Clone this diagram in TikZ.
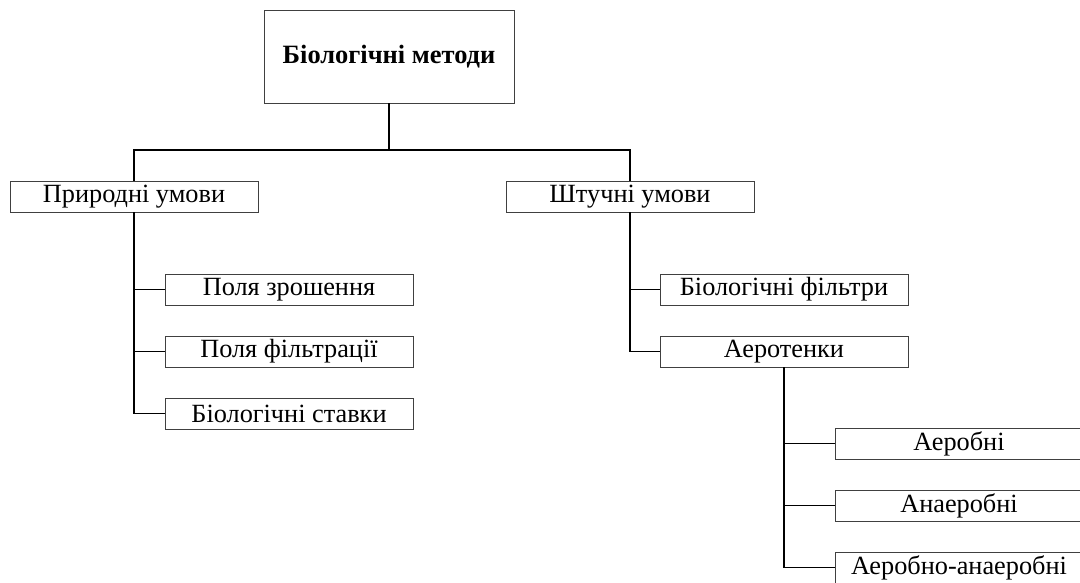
\documentclass[tikz,border=0pt]{standalone}
\usepackage{fontspec}
\setmainfont{Liberation Serif}
\usetikzlibrary{positioning}

\tikzset{
  box/.style={draw=black!75, line width=0.6pt, fill=white, minimum width=6.2cm,
    minimum height=0.775cm, inner sep=0pt, font=\fontsize{18.7}{20}\selectfont},
  rootbox/.style={box, minimum width=6.25cm, minimum height=2.325cm,
    font=\fontsize{18.8}{20}\selectfont\bfseries},
  link/.style={line width=1.4pt, draw=black}
}

\begin{document}
\begin{tikzpicture}[x=0.025cm, y=-0.025cm]
		%%%%% START %%%%%
		\useasboundingbox (0,0) rectangle (1080,583);
		
		\node[rootbox] (metody) at (389,56.5) {Біологічні методи};
		
		\node[box] (pryrodni) at (134,196.5) {Природні умови};
		\node[box] (shtuchni) at (630,196.5) {Штучні умови};
		
		\node[box] (zroshennia) at (289,289.5) {Поля зрошення};
		\node[box] (filtratsii) at (289,351.5) {Поля фільтрації};
		\node[box] (stavky) at (289,413.5) {Біологічні ставки};
		
		\node[box] (filtry) at (784,289.5) {Біологічні фільтри};
		\node[box] (aerotenky) at (784,351.5) {Аеротенки};
		
		\node[box] (aerobni) at (959,443.5) {Аеробні};
		\node[box] (anaerobni) at (959,505.5) {Анаеробні};
		\node[box] (zmishani) at (959,567.5) {Аеробно-анаеробні};
		
		\coordinate (rozvylka) at (389,150);
		\draw[link] (metody.south) -- (rozvylka);
		\draw[link] (rozvylka) -| (pryrodni.north);
		\draw[link] (rozvylka) -| (shtuchni.north);
		
		\draw[link] (pryrodni.south) |- (zroshennia.west);
		\draw[link] (pryrodni.south) |- (filtratsii.west);
		\draw[link] (pryrodni.south) |- (stavky.west);
		
		\draw[link] (shtuchni.south) |- (filtry.west);
		\draw[link] (shtuchni.south) |- (aerotenky.west);
		
		\draw[link] (aerotenky.south) |- (aerobni.west);
		\draw[link] (aerotenky.south) |- (anaerobni.west);
		\draw[link] (aerotenky.south) |- (zmishani.west);
		
		%%%%% END %%%%%
\end{tikzpicture}
\end{document}
